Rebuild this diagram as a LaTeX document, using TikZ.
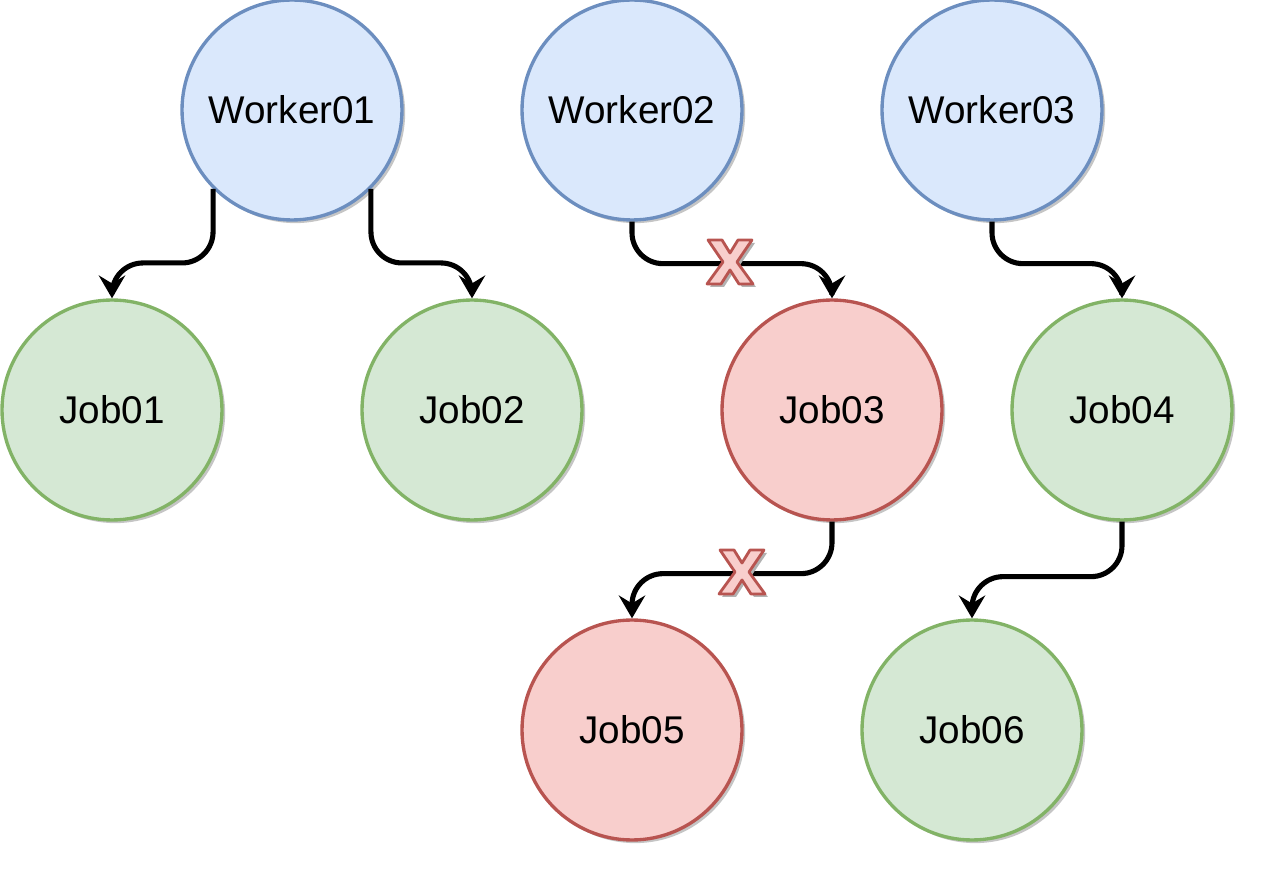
\documentclass[tikz,border=0pt]{standalone}
\usepackage{fontspec}
\setmainfont{Liberation Sans}
\usetikzlibrary{arrows.meta,shadows}
\definecolor{wfill}{HTML}{DAE8FC}
\definecolor{wline}{HTML}{6C8EBF}
\definecolor{okfill}{HTML}{D5E8D4}
\definecolor{okline}{HTML}{82B366}
\definecolor{badfill}{HTML}{F8CECC}
\definecolor{badline}{HTML}{B85450}

\begin{document}
\begin{tikzpicture}[
      x=0.02cm, y=-0.02cm,
      ball/.style={circle, line width=1.9pt, minimum size=4.4cm, inner sep=0pt,
        font=\fontsize{22}{26}\selectfont,
        drop shadow={shadow xshift=1.8pt, shadow yshift=-1.8pt, fill=black!45, opacity=0.5}},
      worker/.style={ball, draw=wline, fill=wfill},
      job/.style={ball, draw=okline, fill=okfill},
      failjob/.style={ball, draw=badline, fill=badfill},
      link/.style={-{Stealth[length=13pt, width=15pt, inset=4.5pt]}, line width=2.9pt,
        rounded corners=0.62cm},
      failmark/.pic={
        \fill[black!30, shift={(3,3)}] (-22,-22) -- (-8,-22) -- (0,-9) -- (8,-22) -- (22,-22) -- (7,0)
          -- (23,22) -- (9,22) -- (0,8) -- (-9,22) -- (-23,22) -- (-7,0) -- cycle;
        \filldraw[fill=badfill, draw=badline, line width=1.6pt, line join=round]
          (-22,-22) -- (-8,-22) -- (0,-9) -- (8,-22) -- (22,-22) -- (7,0)
          -- (23,22) -- (9,22) -- (0,8) -- (-9,22) -- (-23,22) -- (-7,0) -- cycle;
      }
    ]
    \useasboundingbox (0,0) rectangle (1262,874);

    % Workers
    \node[worker] (w1) at (292,110) {Worker01};
    \node[worker] (w2) at (632,110) {Worker02};
    \node[worker] (w3) at (992,110) {Worker03};

    % Jobs, first row
    \node[job] (j1) at (112,410) {Job01};
    \node[job] (j2) at (472,410) {Job02};
    \node[failjob] (j3) at (832,410) {Job03};
    \node[job] (j4) at (1122,410) {Job04};

    % Jobs, second row
    \node[failjob] (j5) at (632,730) {Job05};
    \node[job] (j6) at (972,730) {Job06};

    % Arrows
    \draw[link] (w1.225) -- ++(0,74) -| (j1.north);
    \draw[link] (w1.315) -- ++(0,74) -| (j2.north);
    \draw[link] (w2.south) -- ++(0,42) -| (j3.north);
    \draw[link] (w3.south) -- ++(0,42) -| (j4.north);
    \draw[link] (j3.south) -- ++(0,52) -| (j5.north);
    \draw[link] (j4.south) -- ++(0,55) -| (j6.north);

    % Failed links
    \pic at (730,262) {failmark};
    \pic at (742,572) {failmark};
  \end{tikzpicture}
\end{document}
